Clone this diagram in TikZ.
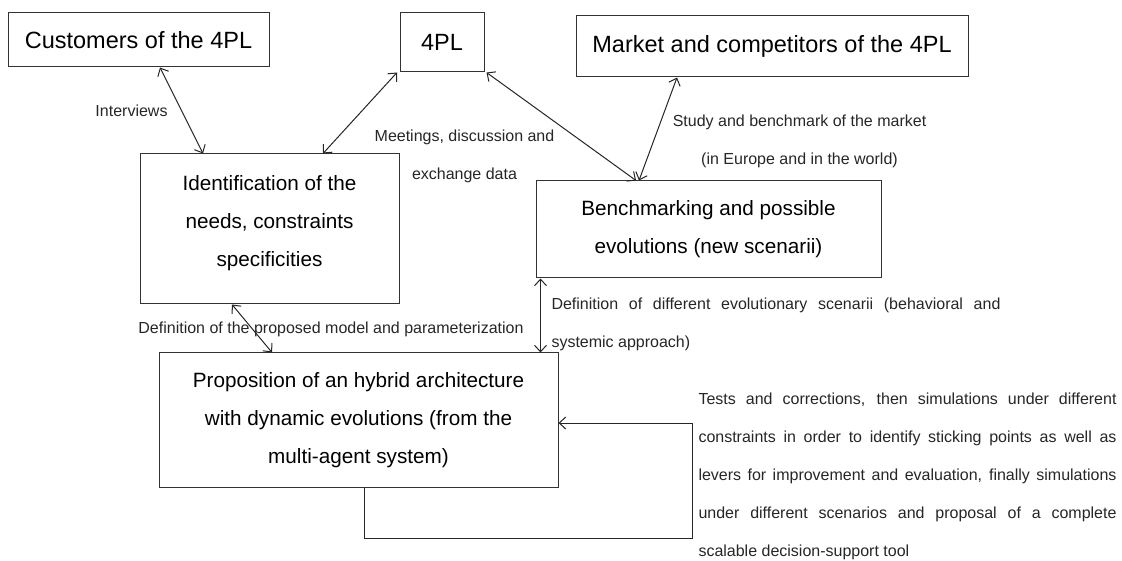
\documentclass[tikz,border=0pt]{standalone}
\usepackage{fontspec}
\setmainfont{Liberation Sans}
\usetikzlibrary{arrows.meta, positioning, calc}

\begin{document}
\begin{tikzpicture}[x=1pt, y=-1pt, >={Straight Barb[length=6.5pt,width=12pt]}, line width=1pt,
    boxtext/.style={align=center, inner sep=0pt, font=\fontsize{20.7}{38}\selectfont},
    box/.style={draw=black!80, rectangle, boxtext},
    title/.style={box, font=\fontsize{23.5}{28}\selectfont},
    lbl/.style={inner sep=0pt, align=center, text=black!85, font=\fontsize{16}{38}\selectfont}]
    \useasboundingbox (0,0) rectangle (1122,561);

    % top row
    \node[title, minimum width=261pt, minimum height=54pt] (cust) at (138.5,40) {Customers of the 4PL};
    \node[title, minimum width=84pt, minimum height=59pt] (pl) at (442,42.5) {4PL};
    \node[title, minimum width=392pt, minimum height=61pt] (market) at (772,46.5) {Market and competitors of the 4PL};

    % middle and bottom boxes
    \node[box, minimum width=259pt, minimum height=150pt,
          label={[boxtext, yshift=5.5pt]center:{Identification of the\\needs, constraints\\specificities}}] (ident) at (269.5,229) {};
    \node[box, minimum width=345pt, minimum height=97pt] (bench) at (708.5,229.5) {Benchmarking and possible\\evolutions (new scenarii)};
    \node[box, minimum width=399pt, minimum height=134pt] (prop) at (358.5,420) {Proposition of an hybrid architecture\\with dynamic evolutions (from the\\multi-agent system)};
    \coordinate (loopc) at (692,538);

    % connectors
    \draw[<->, black!85] ([xshift=21.5pt]cust.south) -- ([xshift=-66.5pt]ident.north);
    \draw[<->, black!85] ([xshift=-45pt]pl.south) -- ([xshift=53.5pt]ident.north);
    \draw[<->, black!85] ([xshift=2pt]pl.south east) -- ([xshift=-72.5pt]bench.north);
    \draw[<->, black!85] ([xshift=-95pt]market.south) -- ([xshift=-69.5pt]bench.north);
    \draw[<->, black!85] ([xshift=-37.5pt]ident.south) -- ([xshift=-86.5pt]prop.north);
    \draw[<->, black!85] ([xshift=5pt]bench.south west) -- ([xshift=5pt]bench.south west |- prop.north);
    \draw[->, black!85] ([xshift=5.5pt]prop.south) |- (loopc) |- ([yshift=-3pt]prop.east);

    % labels
    \node[lbl] (intv) at (131.5,111) {Interviews};
    \node[lbl] (meet) at (464.5,156.5) {Meetings, discussion and\\exchange data};
    \node[lbl] (study) at (799.5,141) {Study and benchmark of the market\\(in Europe and in the world)};
    \node[lbl] (defmod) at (331,329) {Definition of the proposed model and parameterization};
    \node[lbl, align=left, anchor=west] (defscen) at (551,324.5)
        {\makebox[449pt][s]{Definition of different evolutionary scenarii (behavioral and}\\systemic approach)};
    \node[lbl, align=left, anchor=west] (tests) at (698,476.5)
        {\makebox[418pt][s]{Tests and corrections, then simulations under different}\\
         \makebox[418pt][s]{constraints in order to identify sticking points as well as}\\
         \makebox[418pt][s]{levers for improvement and evaluation, finally simulations}\\
         \makebox[418pt][s]{under different scenarios and proposal of a complete}\\
         scalable decision-support tool};
\end{tikzpicture}
\end{document}
